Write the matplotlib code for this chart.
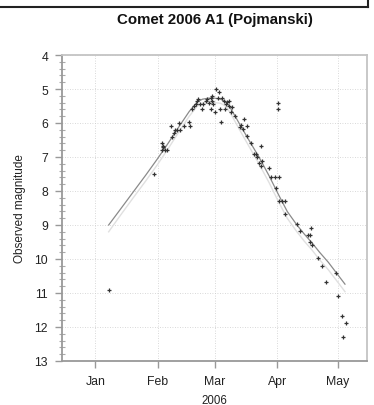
import matplotlib
matplotlib.use("Agg")
import matplotlib.pyplot as plt
from matplotlib.lines import Line2D
from matplotlib.ticker import MultipleLocator

plt.rcParams["font.family"] = ["Liberation Sans", "DejaVu Sans"]

# observations: days since 2006-01-01, visual magnitude
obs_day = [6.7, 28.9,
           32.8, 33.3, 33.6, 32.9, 34.5, 35.5,
           37.7, 38.2, 39.0, 39.5, 40.3, 41.5, 41.9, 43.7, 46.4, 47.0,
           48.0, 48.9, 49.7, 50.5, 51.0, 52.0, 53.0, 53.5, 54.7, 55.5,
           56.3, 57.1, 57.1, 57.6, 57.6, 58.4, 59.3, 59.6, 60.9, 61.2,
           61.8, 62.0, 62.8, 63.6, 64.4, 64.8, 65.3, 66.2, 66.2, 67.0,
           67.8, 69.1, 71.4, 71.9, 73.5, 73.2, 75.2, 75.2, 77.3, 78.5,
           79.3, 80.0, 81.0, 81.8, 82.0, 82.3, 86.2, 87.2, 89.1, 89.5,
           90.3, 90.3, 90.8, 91.1, 92.4, 93.7, 94.1,
           99.8, 101.5, 105.2, 106.4, 106.9, 106.1, 107.2, 110.2, 112.1,
           114.3, 119.0, 119.9, 122.0, 123.9, 122.8]
obs_mag = [10.91, 7.5,
           6.6, 6.67, 6.72, 6.78, 6.8, 6.8,
           6.1, 6.4, 6.3, 6.2, 6.2, 6.0, 6.2, 6.1, 5.98, 6.1,
           5.59, 5.49, 5.44, 5.34, 5.3, 5.44, 5.59, 5.44, 5.34, 5.3,
           5.4, 5.25, 5.59, 5.2, 5.34, 5.44, 5.69, 5.0, 5.25, 5.1,
           5.59, 5.98, 5.25, 5.34, 5.59, 5.44, 5.39, 5.34, 5.49, 5.69,
           5.52, 5.78, 6.13, 6.06, 5.88, 6.18, 6.1, 6.39, 6.59, 6.91,
           6.91, 7.01, 7.18, 7.26, 6.69, 7.11, 7.31, 7.6, 7.6, 7.9,
           5.42, 5.59, 7.6, 8.3, 8.3, 8.3, 8.68,
           8.98, 9.18, 9.28, 9.28, 9.09, 9.49, 9.59, 9.98, 10.2,
           10.69, 10.4, 11.1, 11.69, 11.89, 12.28]

# fitted light curves
fit_day = [6.6, 12, 18.5, 25, 30.8, 36, 41.5, 46.5, 50.5, 53, 56, 59,
           62, 64.5, 67, 71.9, 76, 81, 86, 90.8, 95, 99.8, 103.5, 107.2,
           111, 115.4, 119.5, 123.6]
fit_mag = [9.0, 8.57, 8.05, 7.53, 7.05, 6.6, 6.1, 5.66, 5.38, 5.3, 5.27,
           5.27, 5.3, 5.37, 5.57, 6.08, 6.5, 7.0, 7.55, 8.12, 8.6, 9.0,
           9.27, 9.52, 9.8, 10.1, 10.42, 10.74]
alt_day = [6.6, 12, 18.5, 25, 30.8, 36, 41.5, 46.5, 50.5, 53, 56, 59,
           62, 64.5, 67, 71.9, 76, 81, 86, 90.8, 95, 99.8, 103.5, 107.2,
           111, 115.4, 119.5, 123.6]
alt_mag = [9.2, 8.75, 8.22, 7.7, 7.22, 6.76, 6.25, 5.8, 5.5, 5.42, 5.4,
           5.4, 5.42, 5.5, 5.72, 6.25, 6.68, 7.2, 7.75, 8.33, 8.8, 9.2,
           9.48, 9.73, 10.02, 10.32, 10.64, 10.96]

month_day = [0, 31, 59, 90, 120]
month_lab = ["Jan", "Feb", "Mar", "Apr", "May"]

W, H = 374, 406
fig = plt.figure(figsize=(W / 100, H / 100), dpi=100)
ax = fig.add_axes([62 / W, 1 - 362 / H, (367 - 62) / W, (362 - 56) / H])

ax.plot(alt_day, alt_mag, color="#e0e0e0", lw=1.0, zorder=2)
ax.plot(fit_day, fit_mag, color="#8a8a8a", lw=0.9, zorder=3)
ax.plot(obs_day, obs_mag, ls="none", marker="+", ms=2.6, mew=0.9,
        color="#333333", zorder=4)

ax.set_xlim(-16.5, 134.5)
ax.set_ylim(13, 4)
ax.set_xticks(month_day)
ax.set_xticklabels(month_lab)
ax.yaxis.set_major_locator(MultipleLocator(1))
ax.yaxis.set_minor_locator(MultipleLocator(0.2))
ax.grid(True, which="major", ls=(0, (1, 2)), lw=0.6, color="#cccccc")
ax.set_axisbelow(True)

ax.tick_params(axis="both", which="major", direction="out", colors="#999999",
               labelcolor="#222222", labelsize=8.8, length=5, width=1)
ax.tick_params(axis="x", pad=5)
ax.tick_params(axis="y", pad=5)
ax.tick_params(axis="y", which="minor", direction="inout", length=4,
               width=0.8, colors="#aaaaaa")

for side in ("left", "bottom"):
    ax.spines[side].set_color("#999999")
    ax.spines[side].set_linewidth(1.3)
for side in ("top", "right"):
    ax.spines[side].set_color("#c4c4c4")
    ax.spines[side].set_linewidth(1.3)

ax.set_xlabel("2006", fontsize=8.3, color="#222222", labelpad=5)
ax.set_ylabel("Observed magnitude", fontsize=8.5, color="#222222", labelpad=6)

fig.text(215 / W, 1 - 20 / H, "Comet 2006 A1 (Pojmanski)", ha="center",
         va="center", fontsize=10.8, fontweight="bold", color="#111111")

# edge of the panel above
fig.add_artist(Line2D([0, 368 / W], [1 - 8 / H, 1 - 8 / H], color="#222222",
                      lw=1.5, transform=fig.transFigure))
fig.add_artist(Line2D([368 / W, 368 / W], [1 - 8 / H, 1.0], color="#222222",
                      lw=1.5, transform=fig.transFigure))

fig.savefig("out.png", dpi=100)
